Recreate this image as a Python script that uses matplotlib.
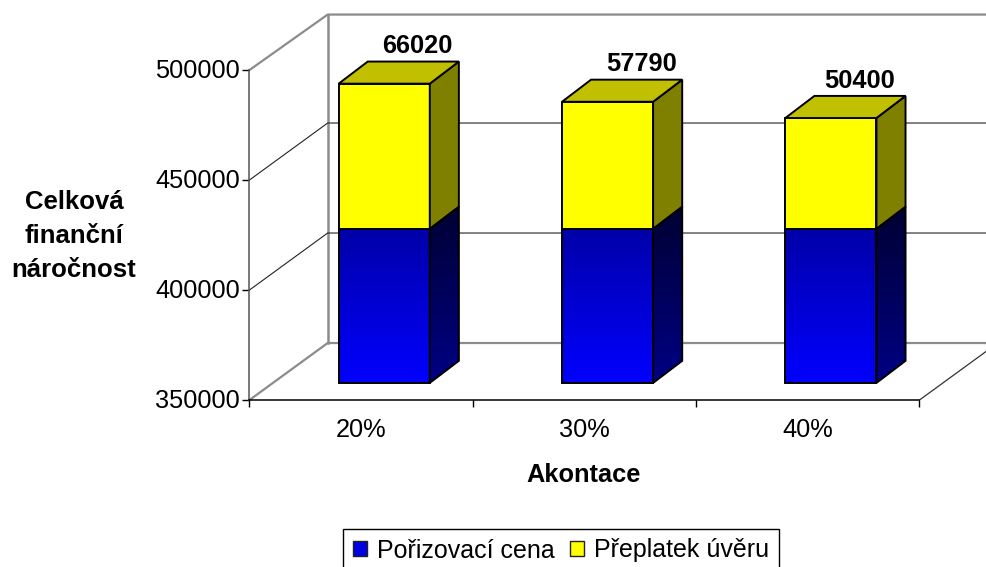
import matplotlib
matplotlib.use("Agg")
import matplotlib.pyplot as plt
import numpy as np
from matplotlib.patches import Patch, Polygon
from matplotlib.transforms import ScaledTranslation

plt.rcParams['font.family'] = ['Liberation Sans', 'DejaVu Sans']

categories = ['20%', '30%', '40%']
porizovaci_cena = [420000, 420000, 420000]
preplatek_uveru = [66020, 57790, 50400]
y_ticks = [350000, 400000, 450000, 500000]
grid_values = [400000, 450000]

# 3d look, depth expressed in axis units
DX = 0.35
DY = 25900
DY_TOP = 25200
BAR_W = 0.408
D0, D1 = 0.295, 0.667
D0Y, D1Y = 0.30, 0.688
FS = 18.3

fig = plt.figure(figsize=(9.87, 5.67), dpi=100)
ax = fig.add_axes([249.5 / 987, (567 - 400) / 567, 670 / 987, 330 / 567])


def poly(points, face='none', edge='black', lw=1.4, z=3):
    p = Polygon(points, closed=True, facecolor=face, edgecolor=edge, linewidth=lw, zorder=z, clip_on=False, joinstyle='miter')
    ax.add_patch(p)
    return p


def gradient(points, bottom, top, y0, y1, z=3):
    # vertical gradient clipped to a polygon, outline goes on top
    clip = Polygon(points, closed=True, transform=ax.transData, facecolor='none', edgecolor='none')
    ax.add_patch(clip)
    cols = np.linspace(np.array(top), np.array(bottom), 64).reshape(64, 1, 3)
    xs = [p[0] for p in points]
    im = ax.imshow(cols, extent=[min(xs), max(xs), y0, y1], aspect='auto', zorder=z, interpolation='bilinear')
    im.set_clip_path(clip)
    poly(points, z=z + 0.1)


ymin = y_ticks[0]
ymax = y_ticks[-1]

# walls
wall = '#8c8c8c'
ax.plot([0, DX, 3 + DX], [ymin, ymin + DY, ymin + DY], color=wall, lw=1.6, zorder=1, clip_on=False)
ax.plot([0, DX, 3 + DX], [ymax, ymax + DY_TOP, ymax + DY_TOP], color=wall, lw=1.6, zorder=1, clip_on=False)
ax.plot([DX, DX], [ymin + DY, ymax + DY_TOP], color=wall, lw=1.8, zorder=1, clip_on=False)
ax.plot([3, 3 + DX], [ymin, ymin + DY], color='#333333', lw=0.9, zorder=1, clip_on=False)
for g in grid_values:
    ax.plot([0, DX, 3 + DX], [g, g + DY, g + DY], color='#222222', lw=0.8, zorder=1, clip_on=False)

# bars
label_nudge = [4, 5, 0]
for i in range(len(categories)):
    x0 = i + 0.5 - BAR_W / 2
    x1 = i + 0.5 + BAR_W / 2
    dx0, dx1 = D0 * DX, D1 * DX
    dy0, dy1 = D0Y * DY, D1Y * DY
    b = ymin
    m = porizovaci_cena[i]
    t = m + preplatek_uveru[i]

    front_blue = [(x0 + dx0, b + dy0), (x1 + dx0, b + dy0), (x1 + dx0, m + dy0), (x0 + dx0, m + dy0)]
    side_blue = [(x1 + dx0, b + dy0), (x1 + dx1, b + dy1), (x1 + dx1, m + dy1), (x1 + dx0, m + dy0)]
    gradient(front_blue, (0, 0, 1), (0, 0, 0.66), b + dy0, m + dy0)
    gradient(side_blue, (0, 0, 0.52), (0, 0, 0.2), b + dy0, m + dy1)

    poly([(x0 + dx0, m + dy0), (x1 + dx0, m + dy0), (x1 + dx0, t + dy0), (x0 + dx0, t + dy0)], face='#ffff00')
    poly([(x1 + dx0, m + dy0), (x1 + dx1, m + dy1), (x1 + dx1, t + dy1), (x1 + dx0, t + dy0)], face='#808000')
    poly([(x0 + dx0, t + dy0), (x1 + dx0, t + dy0), (x1 + dx1, t + dy1), (x0 + dx1, t + dy1)], face='#c0c000')

    ax.annotate(str(preplatek_uveru[i]), xy=(i + 0.5 + dx1, t + dy1), xytext=(label_nudge[i] * 0.72, 11),
                textcoords='offset points', ha='center', va='center', fontsize=FS, fontweight='bold',
                annotation_clip=False, zorder=5)

ax.set_xlim(0, 3)
ax.set_ylim(ymin, ymax)

ax.spines['top'].set_visible(False)
ax.spines['right'].set_visible(False)
ax.spines['left'].set_color('#555555')
ax.spines['left'].set_linewidth(1.1)
ax.spines['bottom'].set_linewidth(1.1)
ax.patch.set_alpha(0)

ax.set_yticks(y_ticks)
ax.set_yticklabels([str(v) for v in y_ticks], fontsize=FS)
ax.tick_params(axis='y', length=5, width=1, pad=2)
for lab in ax.get_yticklabels():
    lab.set_transform(lab.get_transform() + ScaledTranslation(0, 1.7 / 100, fig.dpi_scale_trans))
ax.set_xticks([0, 1, 2, 3])
ax.set_xticklabels([])
ax.tick_params(axis='x', length=5, width=1)
ax.set_xticks([0.5, 1.5, 2.5], minor=True)
ax.set_xticklabels(categories, minor=True, fontsize=FS)
ax.tick_params(axis='x', which='minor', length=0, pad=13.3)

fig.text(583.5 / 987, 1 - 475 / 567, 'Akontace', ha='center', va='center', fontsize=FS, fontweight='bold')
fig.text(74 / 987, 1 - 236 / 567, 'Celková\nfinanční\nnáročnost', ha='center', va='center', fontsize=18.5,
         fontweight='bold', linespacing=1.55)

handles = [Patch(facecolor='#0000e0', edgecolor='#222222', label='Pořizovací cena'),
           Patch(facecolor='#ffff00', edgecolor='#222222', label='Přeplatek úvěru')]
leg = fig.legend(handles=handles, ncol=2, loc='upper left', bbox_to_anchor=(343 / 987, 1 - 528.5 / 567), fontsize=18,
                 frameon=True, fancybox=False, edgecolor='black', framealpha=1, handlelength=0.56, handleheight=0.56,
                 handletextpad=0.4, columnspacing=0.61, borderpad=0.4, borderaxespad=0)
leg.get_frame().set_linewidth(1)

fig.savefig('out.png', dpi=100)
